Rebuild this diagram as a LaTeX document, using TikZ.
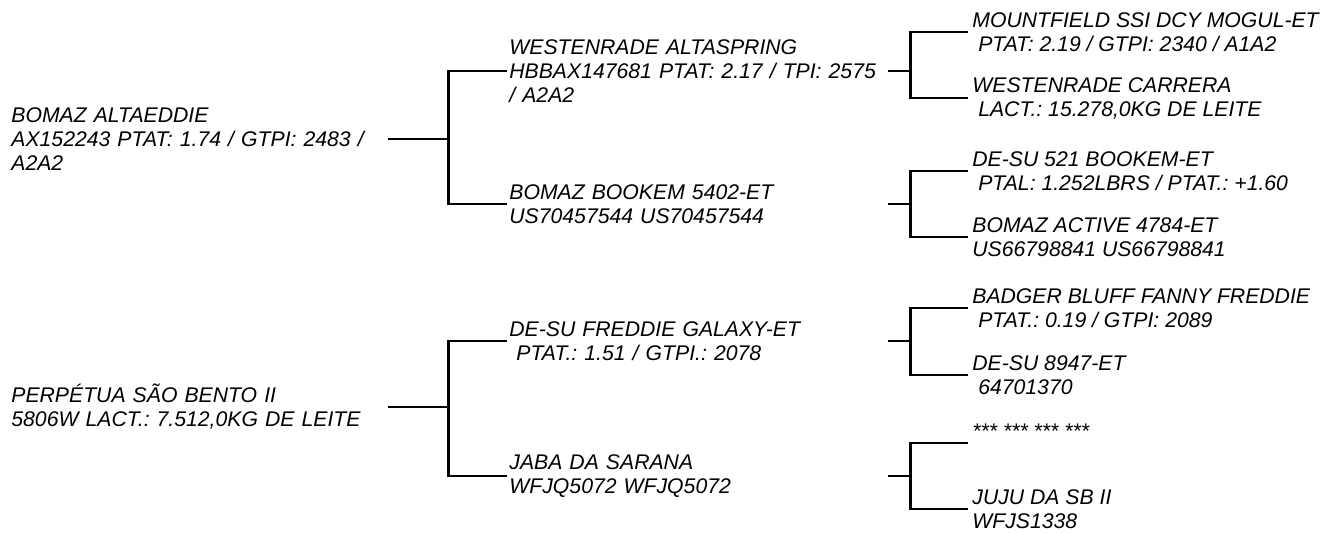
\documentclass[tikz,border=0pt]{standalone}
\usepackage{fontspec}
\setmainfont{Liberation Sans}
\frenchspacing

\begin{document}
\begin{tikzpicture}[x=1pt, y=-1pt, line width=2.8pt,
    every node/.style={inner sep=0pt, align=left, anchor=west, font=\fontsize{21.2}{24}\selectfont\itshape},
    gen1/.style={text width=375pt},
    gen2/.style={text width=376pt, inner xsep=1pt},
    gen3/.style={inner xsep=3pt}]
    \useasboundingbox (0,0) rectangle (1325,533);

    % first generation
    \node[gen1] at (10,139) (s) {BOMAZ ALTAEDDIE\\AX152243 PTAT: 1.74 / GTPI: 2483 /\\A2A2};
    \node[gen1] at (10,407) (d) {PERPÉTUA SÃO BENTO II\\5806W LACT.: 7.512,0KG DE LEITE};

    % second generation
    \node[gen2] at (507,71)  (ss) {WESTENRADE ALTASPRING\\HBBAX147681 PTAT: 2.17 / TPI: 2575\\/ A2A2};
    \node[gen2] at (507,204) (sd) {BOMAZ BOOKEM 5402-ET\\US70457544 US70457544};
    \node[gen2] at (507,341) (ds) {DE-SU FREDDIE GALAXY-ET\\\ PTAT.: 1.51 / GTPI.: 2078};
    \node[gen2] at (507,476) (dd) {JABA DA SARANA\\WFJQ5072 WFJQ5072};

    % third generation
    \node[gen3] at (968,32)  (sss) {MOUNTFIELD SSI DCY MOGUL-ET\\\ PTAT: 2.19 / GTPI: 2340 / A1A2};
    \node[gen3] at (968,98)  (ssd) {WESTENRADE CARRERA\\\ LACT.: 15.278,0KG DE LEITE};
    \node[gen3] at (968,171) (sds) {DE-SU 521 BOOKEM-ET\\\ PTAL: 1.252LBRS / PTAT.: +1.60};
    \node[gen3] at (968,237) (sdd) {BOMAZ ACTIVE 4784-ET\\US66798841 US66798841};
    \node[gen3] at (968,308) (dss) {BADGER BLUFF FANNY FREDDIE\\\ PTAT.: 0.19 / GTPI: 2089};
    \node[gen3] at (968,375) (dsd) {DE-SU 8947-ET\\\ 64701370};
    \node[gen3] at (968,443) (dds) {*** *** *** ***\\\mbox{}};
    \node[gen3] at (968,509) (ddd) {JUJU DA SB II\\WFJS1338};

    % brackets
    \draw (s.east) -- ++(61,0) coordinate (s1);
    \draw (ss.west) -| (s1) |- (sd.west);
    \draw (d.east) -- ++(61,0) coordinate (d1);
    \draw (ds.west) -| (d1) |- (dd.west);

    \draw (ss.east) -- ++(23,0) coordinate (ss1);
    \draw (sss.west) -| (ss1) |- (ssd.west);
    \draw (sd.east) -- ++(23,0) coordinate (sd1);
    \draw (sds.west) -| (sd1) |- (sdd.west);
    \draw (ds.east) -- ++(23,0) coordinate (ds1);
    \draw (dss.west) -| (ds1) |- (dsd.west);
    \draw (dd.east) -- ++(23,0) coordinate (dd1);
    \draw (dds.west) -| (dd1) |- (ddd.west);
\end{tikzpicture}
\end{document}
